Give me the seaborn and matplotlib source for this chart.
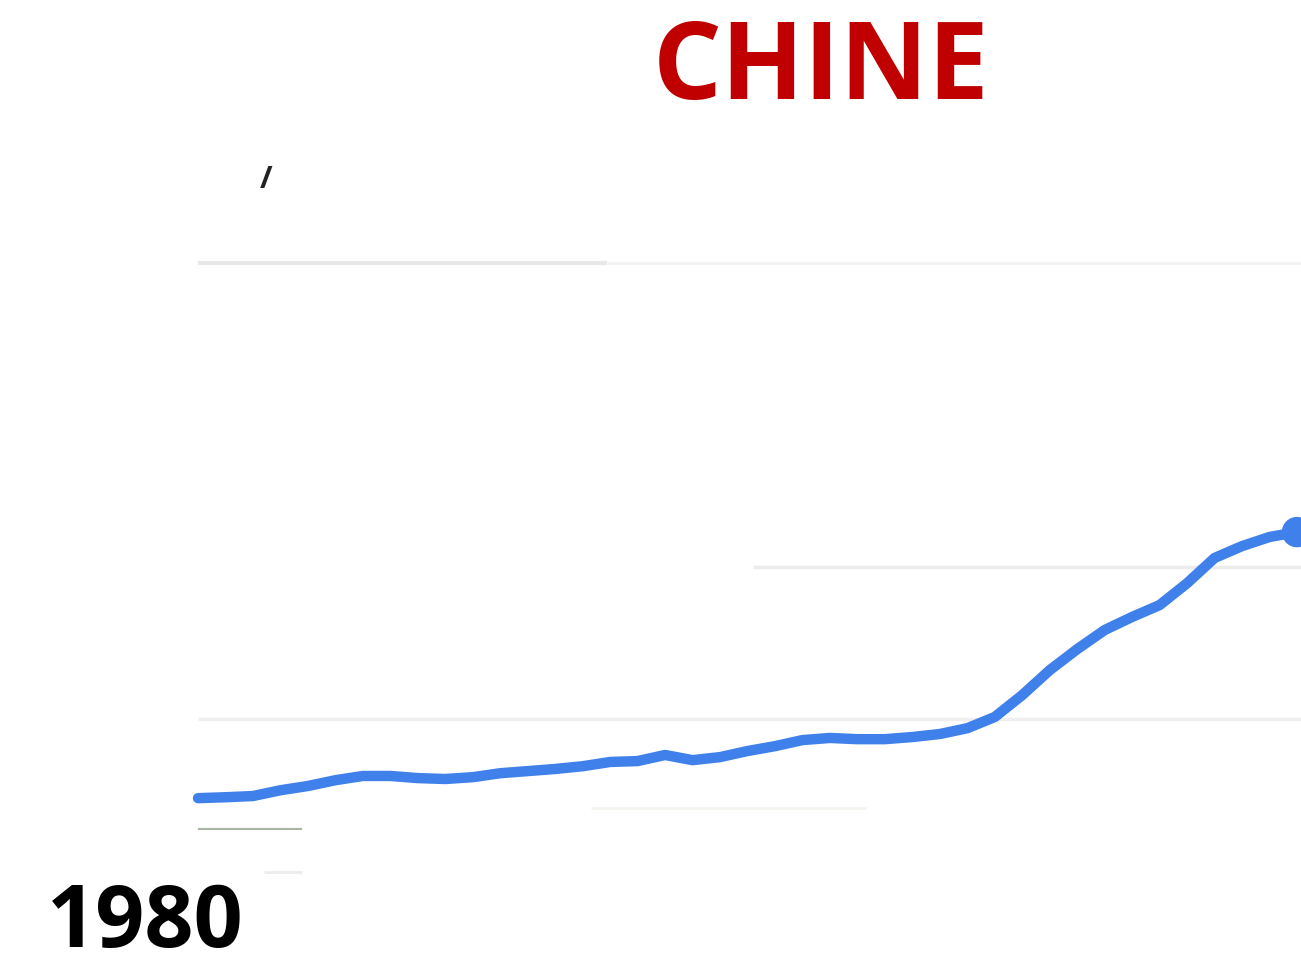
import matplotlib
matplotlib.use("Agg")
import matplotlib.pyplot as plt
import seaborn as sns
import pandas as pd

years = list(range(1980, 2021))
values = [24.0, 24.3, 24.7, 26.6, 28.0, 29.9, 31.3, 31.3, 30.6, 30.3,
          30.9, 32.2, 32.9, 33.6, 34.5, 35.9, 36.2, 38.2, 36.5, 37.5,
          39.5, 41.1, 43.1, 43.8, 43.4, 43.4, 44.1, 45.1, 47.0, 50.7,
          57.9, 66.1, 73.0, 79.3, 83.6, 87.5, 94.7, 103.0, 106.9, 109.9,
          111.5]
title = "CHINE"
start_label = "1980"

df = pd.DataFrame({"year": years, "value": values})

sns.set_theme(style="white")
plt.rcParams['font.family'] = ['Open Sans', 'DejaVu Sans']

W, H = 1301, 959
fig = plt.figure(figsize=(W / 100, H / 100), dpi=100)
left_px, right_px, top_px, bot_px = 198, 1301, 130, 959
ax = fig.add_axes([left_px / W, 1 - bot_px / H, (right_px - left_px) / W, (bot_px - top_px) / H])
ax.set_xlim(1980, 1980 + 40 * (right_px - left_px) / 1099)
ax.set_ylim(-28.9, 243.75)
ax.axis("off")

# faint gridlines (cropped screenshot remnants)
ax.hlines(200, 1980, 1994.9, color="#e8e8e8", lw=3, zorder=1)
ax.hlines(200, 1994.9, 2021, color="#f2f2f2", lw=2, zorder=1)
ax.hlines(100, 2000.2, 2021, color="#ececec", lw=2.5, zorder=1)
ax.hlines(50, 1980, 2021, color="#efefef", lw=2.5, zorder=1)
ax.hlines(20.7, 1994.3, 2004.3, color="#f3f5f0", lw=2, zorder=1)
ax.hlines(13.8, 1980, 1983.8, color="#a9b6a3", lw=1.5, zorder=1)
ax.hlines(-0.3, 1982.4, 1983.8, color="#ececec", lw=2, zorder=1)

sns.lineplot(data=df, x="year", y="value", ax=ax, color="#3f80ea",
             linewidth=7.5, legend=False, zorder=3, clip_on=False,
             solid_joinstyle="round", solid_capstyle="round")
last = df.iloc[[-1]]
sns.scatterplot(data=last, x="year", y="value", ax=ax, color="#3f80ea",
                s=480, edgecolor="none", legend=False, zorder=4, clip_on=False)

fig.text(821 / W, 1 - 71 / H, title, color="#c00000", fontsize=78,
         fontweight="bold", ha="center", va="center")
fig.text(145.5 / W, 1 - 924 / H, start_label, color="black", fontsize=62,
         fontweight="bold", ha="center", va="center")
fig.text(266 / W, 1 - 180 / H, "/", color="#222222", fontsize=22,
         fontweight="bold", ha="center", va="center")

fig.savefig("out.png", dpi=100)
